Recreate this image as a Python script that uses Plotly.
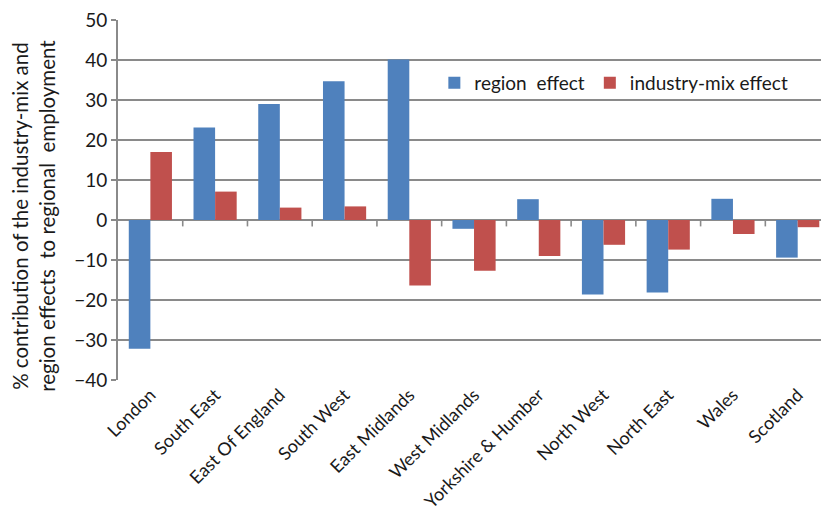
import plotly.graph_objects as go

regions = ["London", "South East", "East Of England", "South West", "East Midlands",
           "West Midlands", "Yorkshire & Humber", "North West", "North East", "Wales", "Scotland"]
region_effect = [-32.2, 23.1, 29.0, 34.7, 40.1, -2.2, 5.2, -18.6, -18.1, 5.3, -9.4]
industry_mix_effect = [17.0, 7.1, 3.1, 3.4, -16.4, -12.7, -9.0, -6.2, -7.4, -3.5, -1.8]
y_ticks = [-40, -30, -20, -10, 0, 10, 20, 30, 40, 50]

FONT = "Lato"
GRID = "#8a8a8a"
INK = "#1a1a1a"

fig = go.Figure()
fig.add_bar(x=regions, y=region_effect, name="region  effect",
            marker=dict(color="#4F81BD", line=dict(width=0)))
fig.add_bar(x=regions, y=industry_mix_effect, name="industry-mix effect",
            marker=dict(color="#C0504D", line=dict(width=0)))

# small category-boundary ticks hanging below the zero line
for i in range(len(regions) - 1):
    fig.add_shape(type="line", xref="x", yref="y",
                  x0=i + 0.5, x1=i + 0.5, y0=0, y1=-1.6,
                  line=dict(color=GRID, width=1.6), layer="below")

# vertical axis title, two lines
fig.add_annotation(
    text="% contribution of the industry-mix and<br>region effects  to regional  employment",
    xref="paper", yref="paper", x=-0.12, y=0.455,
    xanchor="center", yanchor="middle", textangle=-90, showarrow=False,
    font=dict(size=20.5, family=FONT, color=INK),
)

fig.update_layout(
    width=821, height=525,
    margin=dict(l=118, r=0, t=20, b=145),
    paper_bgcolor="white", plot_bgcolor="white",
    barmode="group", bargap=0.333, bargroupgap=0,
    font=dict(family=FONT, size=18, color=INK),
    showlegend=True,
    legend=dict(orientation="h", x=0.45, y=0.825, xanchor="left", yanchor="middle",
                bgcolor="rgba(0,0,0,0)", font=dict(size=19, family=FONT, color=INK),
                itemwidth=30, tracegroupgap=0),
)
fig.update_xaxes(
    type="category", range=[-0.5, 10.36],
    tickangle=-45, tickfont=dict(size=18, family=FONT, color=INK),
    showgrid=False, showline=False, ticks="",
    zeroline=False,
)
fig.update_yaxes(
    range=[-40, 50], tickvals=y_ticks,
    tickfont=dict(size=19, family=FONT, color=INK),
    showgrid=True, gridcolor=GRID, gridwidth=1.6,
    zeroline=True, zerolinecolor=GRID, zerolinewidth=1.6,
    showline=True, linecolor=GRID, linewidth=1.6,
    ticks="outside", ticklen=5, tickcolor=GRID, tickwidth=1.6,
)

fig.write_html("out.html")
